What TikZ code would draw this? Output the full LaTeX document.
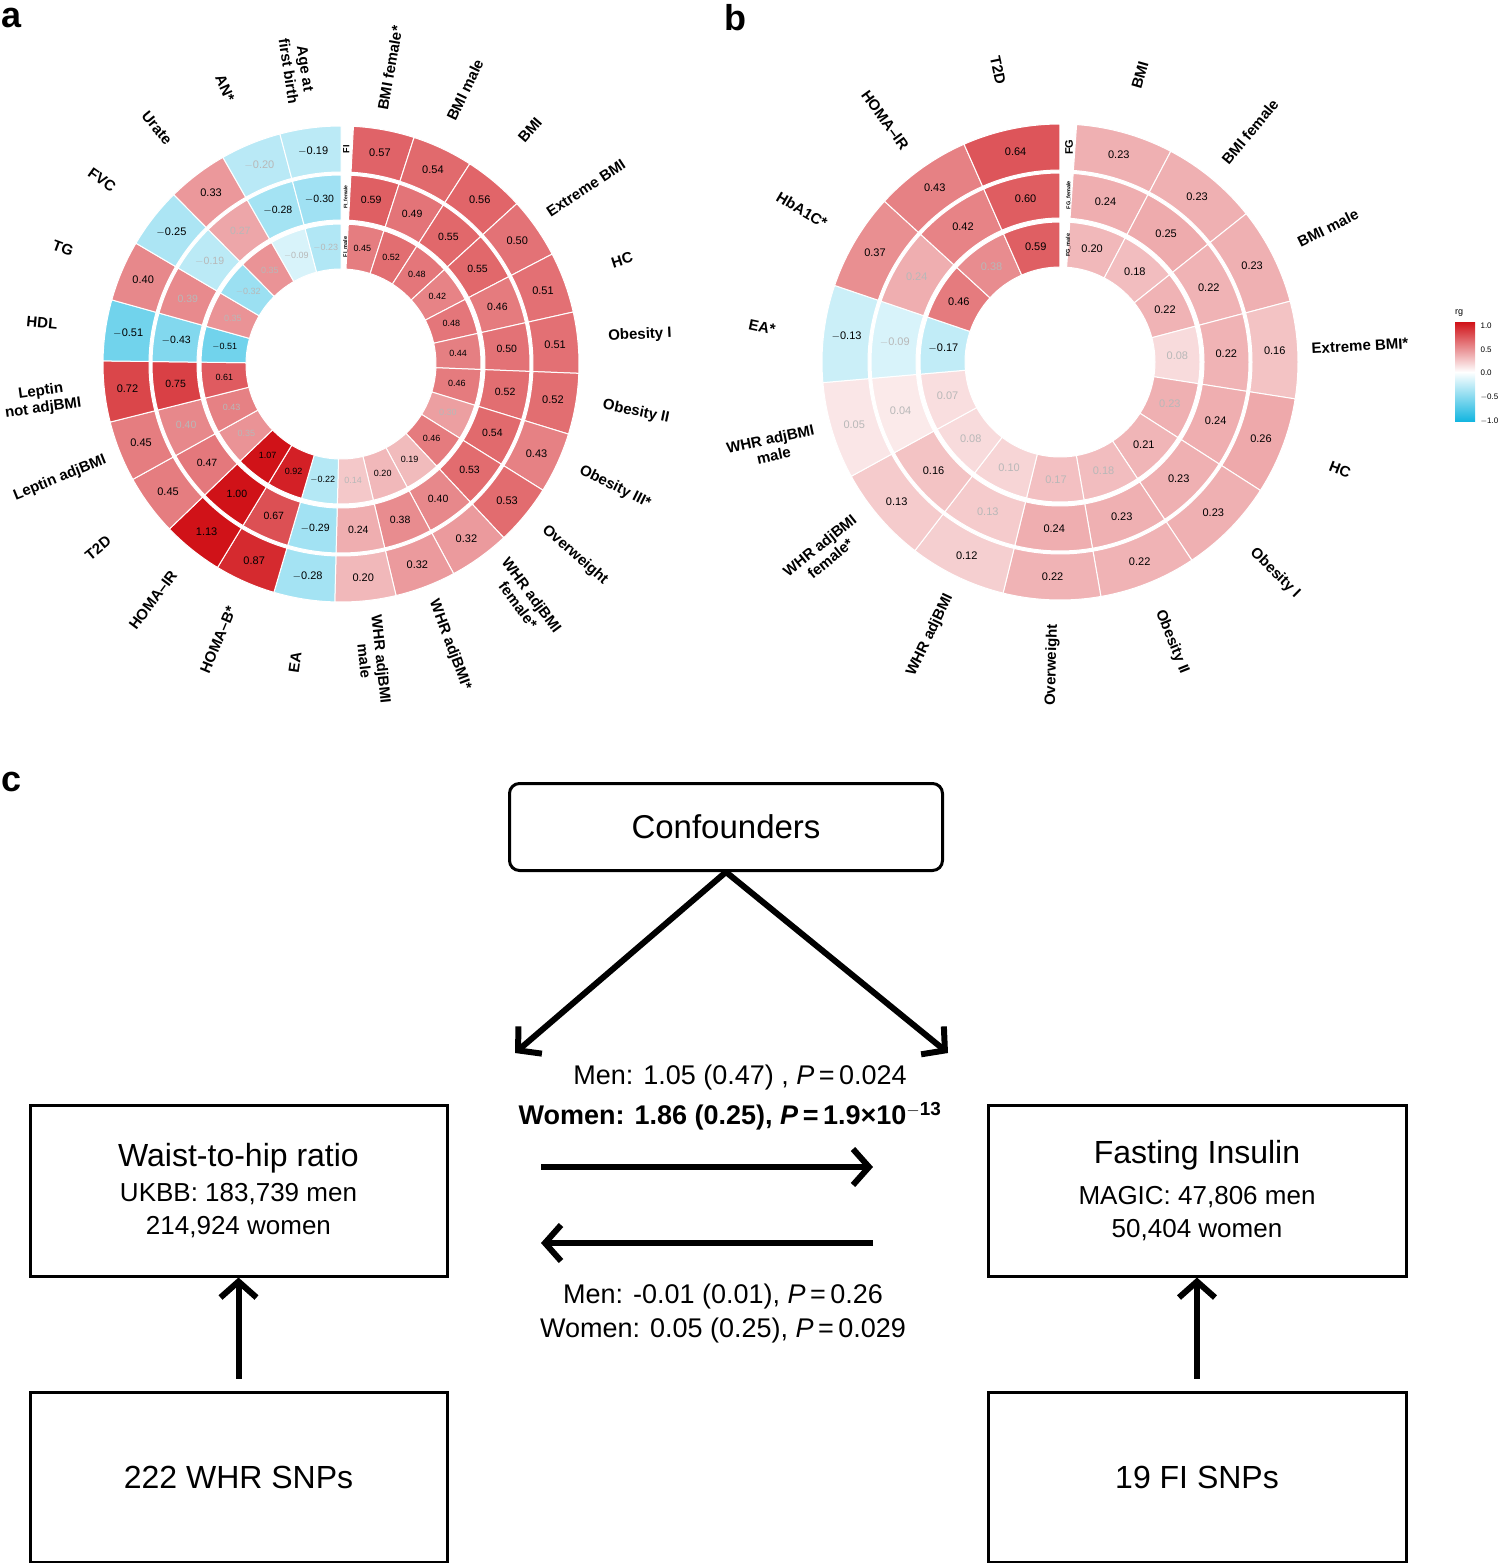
\documentclass[tikz,border=0pt]{standalone}
\usepackage{fontspec}
\setmainfont{Liberation Sans}
\usetikzlibrary{arrows.meta}
\definecolor{redc}{RGB}{208,18,24}
\definecolor{cyanc}{RGB}{20,182,224}
\colorlet{gt}{black!28}
\colorlet{bk}{black}
\def\Ws{3}\def\Ww{14.875}\def\Ri{95}\def\Ro{140}\def\vfs{9}
\newcommand\wcell[4]{%
\pgfmathsetmacro\aA{90-\Ws-\Ww*#1}%
\pgfmathsetmacro\aB{\aA-\Ww}%
\pgfmathsetmacro\aM{\aA-\Ww/2}%
\pgfmathsetmacro\rM{(\Ri+\Ro)/2}%
\pgfmathsetmacro\pp{100*pow(min(abs(#2),1),0.75)}%
\pgfmathtruncatemacro\isneg{#2<0}%
\ifnum\isneg=1 \def\cc{cyanc}\else\def\cc{redc}\fi
\fill[\cc!\pp!white, draw=white, line width=1] (\aA:\Ri) arc[start angle=\aA, end angle=\aB, radius=\Ri] -- (\aB:\Ro) arc[start angle=\aB, end angle=\aA, radius=\Ro] -- cycle;
\node[font=\fontsize{\vfs}{\vfs}\selectfont, text=#4] at (\aM:\rM) {#3};}
\tikzset{lab/.style={font=\bfseries\fontsize{15}{17}\selectfont, align=center},
 box/.style={draw, line width=3pt, align=center},
 big/.style={-{Straight Barb[length=16pt,width=36pt]}, line width=6pt},
 ctext/.style={font=\fontsize{27}{32}\selectfont}}
\begin{document}
\begin{tikzpicture}[x=1pt,y=-1pt]
\useasboundingbox (0,0) rectangle (1500,1563);
\node[font=\bfseries\fontsize{36}{36}\selectfont] (la) at (12,18) {a};
\node[font=\bfseries\fontsize{36}{36}\selectfont] (lb) at (735,18) {b};
\node[font=\bfseries\fontsize{36}{36}\selectfont] (lc) at (12,782) {c};
% ---------- panel a
\begin{scope}[shift={(341,364)}, yscale=-1]
\def\Ri{192}\def\Ro{238}\def\vfs{11}
\wcell{0}{0.57}{0.57}{bk}\wcell{1}{0.54}{0.54}{bk}\wcell{2}{0.56}{0.56}{bk}\wcell{3}{0.50}{0.50}{bk}
\wcell{4}{0.51}{0.51}{bk}\wcell{5}{0.51}{0.51}{bk}\wcell{6}{0.52}{0.52}{bk}\wcell{7}{0.43}{0.43}{bk}
\wcell{8}{0.53}{0.53}{bk}\wcell{9}{0.32}{0.32}{bk}\wcell{10}{0.32}{0.32}{bk}\wcell{11}{0.20}{0.20}{bk}
\wcell{12}{-0.28}{$-$0.28}{bk}\wcell{13}{0.87}{0.87}{bk}\wcell{14}{1.13}{1.13}{bk}\wcell{15}{0.45}{0.45}{bk}
\wcell{16}{0.45}{0.45}{bk}\wcell{17}{0.72}{0.72}{bk}\wcell{18}{-0.51}{$-$0.51}{bk}\wcell{19}{0.40}{0.40}{bk}
\wcell{20}{-0.25}{$-$0.25}{bk}\wcell{21}{0.33}{0.33}{bk}\wcell{22}{-0.20}{$-$0.20}{gt}\wcell{23}{-0.19}{$-$0.19}{bk}
\def\Ri{144}\def\Ro{189}\def\vfs{10.5}
\wcell{0}{0.59}{0.59}{bk}\wcell{1}{0.49}{0.49}{bk}\wcell{2}{0.55}{0.55}{bk}\wcell{3}{0.55}{0.55}{bk}
\wcell{4}{0.46}{0.46}{bk}\wcell{5}{0.50}{0.50}{bk}\wcell{6}{0.52}{0.52}{bk}\wcell{7}{0.54}{0.54}{bk}
\wcell{8}{0.53}{0.53}{bk}\wcell{9}{0.40}{0.40}{bk}\wcell{10}{0.38}{0.38}{bk}\wcell{11}{0.24}{0.24}{bk}
\wcell{12}{-0.29}{$-$0.29}{bk}\wcell{13}{0.67}{0.67}{bk}\wcell{14}{1.00}{1.00}{bk}\wcell{15}{0.47}{0.47}{bk}
\wcell{16}{0.40}{0.40}{gt}\wcell{17}{0.75}{0.75}{bk}\wcell{18}{-0.43}{$-$0.43}{bk}\wcell{19}{0.39}{0.39}{gt}
\wcell{20}{-0.19}{$-$0.19}{gt}\wcell{21}{0.27}{0.27}{gt}\wcell{22}{-0.28}{$-$0.28}{bk}\wcell{23}{-0.30}{$-$0.30}{bk}
\def\Ri{95}\def\Ro{140}\def\vfs{9}
\wcell{0}{0.45}{0.45}{bk}\wcell{1}{0.52}{0.52}{bk}\wcell{2}{0.48}{0.48}{bk}\wcell{3}{0.42}{0.42}{bk}
\wcell{4}{0.48}{0.48}{bk}\wcell{5}{0.44}{0.44}{bk}\wcell{6}{0.46}{0.46}{bk}\wcell{7}{0.30}{0.30}{gt}
\wcell{8}{0.46}{0.46}{bk}\wcell{9}{0.19}{0.19}{bk}\wcell{10}{0.20}{0.20}{bk}\wcell{11}{0.14}{0.14}{gt}
\wcell{12}{-0.22}{$-$0.22}{bk}\wcell{13}{0.92}{0.92}{bk}\wcell{14}{1.07}{1.07}{bk}\wcell{15}{0.35}{0.35}{gt}
\wcell{16}{0.43}{0.43}{gt}\wcell{17}{0.61}{0.61}{bk}\wcell{18}{-0.51}{$-$0.51}{bk}\wcell{19}{0.35}{0.35}{gt}
\wcell{20}{-0.32}{$-$0.32}{gt}\wcell{21}{0.35}{0.35}{gt}\wcell{22}{-0.09}{$-$0.09}{gt}\wcell{23}{-0.23}{$-$0.23}{gt}
\node[rotate=90, font=\bfseries\fontsize{9}{9}\selectfont] (fi) at (88.6:215) {FI};
\node[rotate=90, font=\bfseries\fontsize{5}{5}\selectfont] (fif) at (88.3:167) {FI\_female};
\node[rotate=90, font=\bfseries\fontsize{5.5}{5.5}\selectfont] (fim) at (87.8:117) {FI\_male};
\end{scope}
\node[lab, rotate=79.9] (a1) at (390,68) {BMI female*};
\node[lab, rotate=64.3] (a2) at (465,90) {BMI male};
\node[lab, rotate=49.2] (a3) at (530,130) {BMI};
\node[lab, rotate=33.4] (a4) at (586,188) {Extreme BMI};
\node[lab, rotate=17.7] (a5) at (622,260) {HC};
\node[lab, rotate=2.9] (a6) at (640,335) {Obesity I};
\node[lab, rotate=-11.8] (a7) at (636,412) {Obesity II};
\node[lab, rotate=-26.5] (a8) at (615,487) {Obesity III*};
\node[lab, rotate=-41.1] (a9) at (575,555) {Overweight};
\node[lab, rotate=-53.5] (a10) at (525,600) {WHR adjBMI\\female*};
\node[lab, rotate=-69.5] (a11) at (450,645) {WHR adjBMI*};
\node[lab, rotate=-84] (a12) at (373,660) {WHR adjBMI\\male};
\node[lab, rotate=81.8] (a13) at (295,662) {EA};
\node[lab, rotate=67.2] (a14) at (218,640) {HOMA--B*};
\node[lab, rotate=53.2] (a15) at (153,600) {HOMA--IR};
\node[lab, rotate=39.3] (a16) at (98,548) {T2D};
\node[lab, rotate=22] (a17) at (60,478) {Leptin adjBMI};
\node[lab, rotate=8] (a18) at (42,400) {Leptin\\not adjBMI};
\node[lab, rotate=-5.2] (a19) at (42,323) {HDL};
\node[lab, rotate=-20.2] (a20) at (63,248) {TG};
\node[lab, rotate=-35.5] (a21) at (102,180) {FVC};
\node[lab, rotate=-50.5] (a22) at (157,128) {Urate};
\node[lab, rotate=-66.3] (a23) at (225,88) {AN*};
\node[lab, rotate=-81.3] (a24) at (297,70) {Age at\\first birth};
% ---------- panel b
\begin{scope}[shift={(1060,362)}, yscale=-1]
\def\Ws{4}\def\Ww{23.73}
\def\Ri{192}\def\Ro{238}\def\vfs{11}
\wcell{0}{0.23}{0.23}{bk}\wcell{1}{0.23}{0.23}{bk}\wcell{2}{0.23}{0.23}{bk}\wcell{3}{0.16}{0.16}{bk}
\wcell{4}{0.26}{0.26}{bk}\wcell{5}{0.23}{0.23}{bk}\wcell{6}{0.22}{0.22}{bk}\wcell{7}{0.22}{0.22}{bk}
\wcell{8}{0.12}{0.12}{bk}\wcell{9}{0.13}{0.13}{bk}\wcell{10}{0.05}{0.05}{gt}\wcell{11}{-0.13}{$-$0.13}{bk}
\wcell{12}{0.37}{0.37}{bk}\wcell{13}{0.43}{0.43}{bk}\wcell{14}{0.64}{0.64}{bk}
\def\Ri{144}\def\Ro{189}
\wcell{0}{0.24}{0.24}{bk}\wcell{1}{0.25}{0.25}{bk}\wcell{2}{0.22}{0.22}{bk}\wcell{3}{0.22}{0.22}{bk}
\wcell{4}{0.24}{0.24}{bk}\wcell{5}{0.23}{0.23}{bk}\wcell{6}{0.23}{0.23}{bk}\wcell{7}{0.24}{0.24}{bk}
\wcell{8}{0.13}{0.13}{gt}\wcell{9}{0.16}{0.16}{bk}\wcell{10}{0.04}{0.04}{gt}\wcell{11}{-0.09}{$-$0.09}{gt}
\wcell{12}{0.24}{0.24}{gt}\wcell{13}{0.42}{0.42}{bk}\wcell{14}{0.60}{0.60}{bk}
\def\Ri{95}\def\Ro{140}
\wcell{0}{0.20}{0.20}{bk}\wcell{1}{0.18}{0.18}{bk}\wcell{2}{0.22}{0.22}{bk}\wcell{3}{0.08}{0.08}{gt}
\wcell{4}{0.23}{0.23}{gt}\wcell{5}{0.21}{0.21}{bk}\wcell{6}{0.18}{0.18}{gt}\wcell{7}{0.17}{0.17}{gt}
\wcell{8}{0.10}{0.10}{gt}\wcell{9}{0.08}{0.08}{gt}\wcell{10}{0.07}{0.07}{gt}\wcell{11}{-0.17}{$-$0.17}{bk}
\wcell{12}{0.46}{0.46}{bk}\wcell{13}{0.38}{0.38}{gt}\wcell{14}{0.59}{0.59}{bk}
\node[rotate=90, font=\bfseries\fontsize{11}{11}\selectfont] (fg) at (87.6:215) {FG};
\node[rotate=90, font=\bfseries\fontsize{5.5}{5.5}\selectfont] (fgf) at (87:167) {FG\_female};
\node[rotate=90, font=\bfseries\fontsize{5.5}{5.5}\selectfont] (fgm) at (86:117) {FG\_male};
\end{scope}
\node[lab, rotate=74] (b1) at (1140,75) {BMI};
\node[lab, rotate=50.4] (b2) at (1250,132) {BMI female};
\node[lab, rotate=26.6] (b3) at (1328,228) {BMI male};
\node[lab, rotate=3] (b4) at (1360,346) {Extreme BMI*};
\node[lab, rotate=-21] (b5) at (1340,470) {HC};
\node[lab, rotate=-44.5] (b6) at (1275,573) {Obesity I};
\node[lab, rotate=-68.2] (b7) at (1172,642) {Obesity II};
\node[lab, rotate=88.5] (b8) at (1052,665) {Overweight};
\node[lab, rotate=64.5] (b9) at (930,635) {WHR adjBMI};
\node[lab, rotate=39] (b10) at (825,552) {WHR adjBMI\\female*};
\node[lab, rotate=12] (b11) at (772,447) {WHR adjBMI\\male};
\node[lab, rotate=-12] (b12) at (762,327) {EA*};
\node[lab, rotate=-30.5] (b13) at (802,210) {HbA1C*};
\node[lab, rotate=-54] (b14) at (885,120) {HOMA--IR};
\node[lab, rotate=-78] (b15) at (998,70) {T2D};
% legend
\shade[top color=redc, bottom color=white] (1455,322) rectangle (1475,372);
\shade[top color=white, bottom color=cyanc] (1455,372) rectangle (1475,421);
\node[font=\fontsize{9}{9}\selectfont] (rg) at (1459,313) {rg};
\foreach \v/\y [count=\k] in {1.0/326,0.5/350,0.0/373,$-$0.5/397,$-$1.0/421}
  \node[font=\fontsize{8}{8}\selectfont, anchor=west] (t\k) at (1477,\y) {\v};
% ---------- panel c
\node[box, rounded corners=10pt, minimum width=433pt, minimum height=87pt, font=\fontsize{33}{33}\selectfont] (conf) at (726,827) {Confounders};
\node[box, minimum width=417pt, minimum height=171pt, font=\fontsize{26}{33}\selectfont] (whr) at (238.5,1190.5) {{\fontsize{32}{36}\selectfont Waist-to-hip ratio}\\[2pt] UKBB: 183,739 men\\ 214,924 women};
\node[box, minimum width=418pt, minimum height=171pt, font=\fontsize{26}{33}\selectfont] (fi) at (1197,1190.5) {{\fontsize{32}{36}\selectfont Fasting Insulin}\\[8pt] MAGIC: 47,806 men\\ 50,404 women};
\node[box, minimum width=417pt, minimum height=170pt, font=\fontsize{32}{32}\selectfont] (ws) at (238.5,1477) {222 WHR SNPs};
\node[box, minimum width=418pt, minimum height=170pt, font=\fontsize{32}{32}\selectfont] (fs) at (1197,1477) {19 FI SNPs};
\coordinate (cl) at (515,1053);
\coordinate (cr) at (948,1053);
\draw[big] (conf.south) -- (cl);
\draw[big] (conf.south) -- (cr);
\coordinate (r1) at (541,1167); \coordinate (r2) at (873,1167);
\coordinate (l1) at (873,1243); \coordinate (l2) at (541,1243);
\draw[big] (r1) -- (r2);
\draw[big] (l1) -- (l2);
\draw[big] (ws.north) ++(0,-12) coordinate (wsn) (wsn) -- (whr.south);
\draw[big] (fs.north) ++(0,-12) coordinate (fsn) (fsn) -- (fi.south);
\node[ctext] (m1) at (740,1077) {Men: 1.05 (0.47) , \textit{P}\,=\,0.024};
\node[ctext, font=\bfseries\fontsize{27}{32}\selectfont] (w1) at (730,1116) {Women: 1.86 (0.25), \textit{P}\,=\,1.9×10$^{\mathbf{-13}}$};
\node[ctext] (m2) at (723,1296) {Men: -0.01 (0.01), \textit{P}\,=\,0.26};
\node[ctext] (w2) at (723,1330) {Women: 0.05 (0.25), \textit{P}\,=\,0.029};
\end{tikzpicture}
\end{document}
